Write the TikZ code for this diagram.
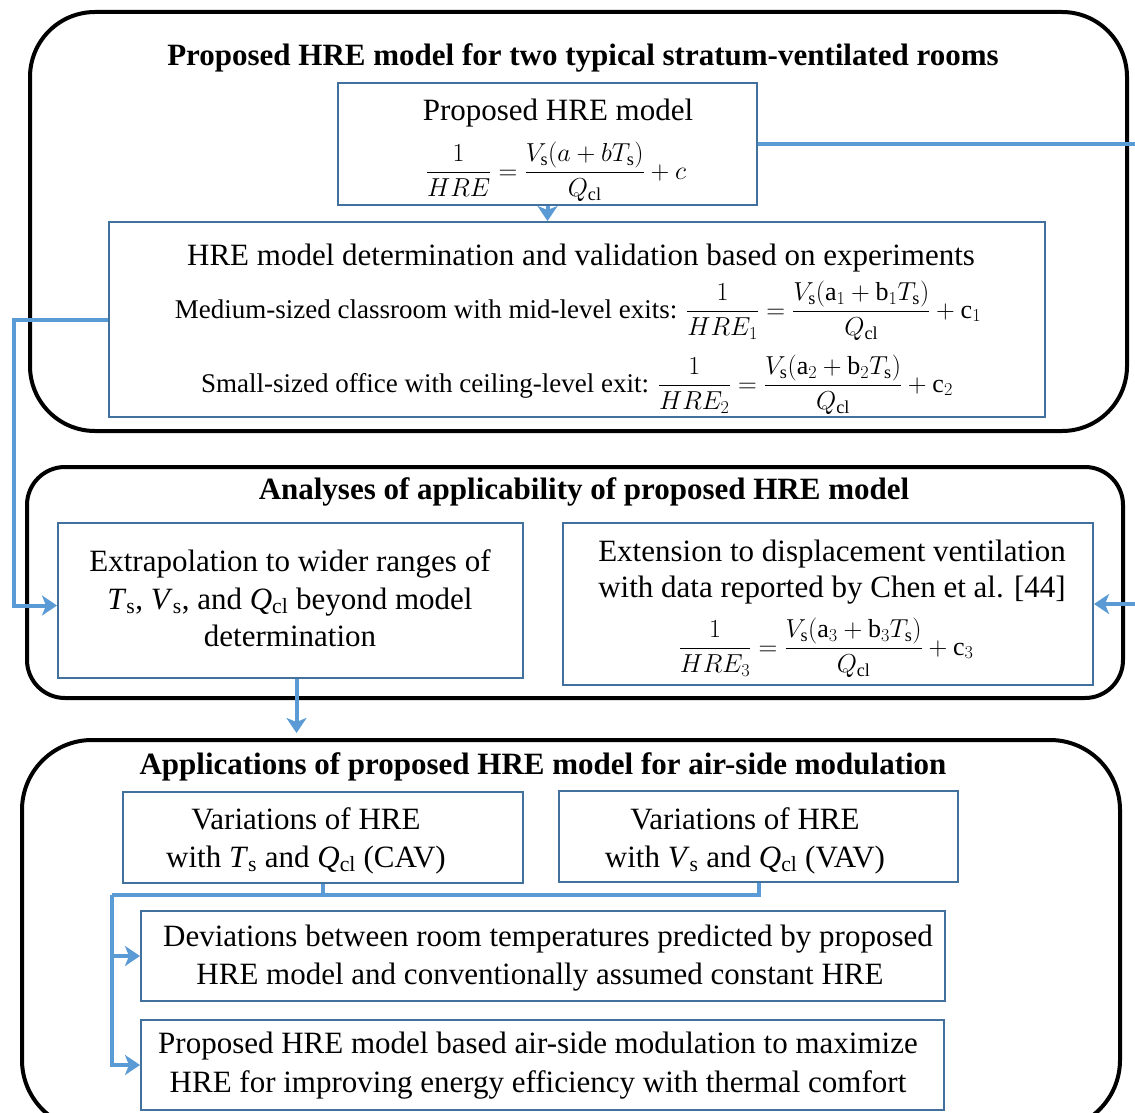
\RequirePackage{fix-cm}
\documentclass[tikz,border=0pt]{standalone}
\usepackage{amsmath}
\usepackage{fontspec}
\setmainfont{Liberation Serif}
\usetikzlibrary{arrows.meta}
\definecolor{boxblue}{RGB}{65,113,156}
\definecolor{lineblue}{RGB}{91,155,213}
\newcommand{\iv}[2]{\textit{#1}\textsubscript{#2}}
\newcommand{\vsm}{V_{\mathrm{s}}}
\newcommand{\tsm}{T_{\mathrm{s}}}
\newcommand{\qcl}{Q_{\mathrm{cl}}}
\newcommand{\mfs}{\fontsize{26}{30}\selectfont}
\begin{document}
\begin{tikzpicture}[x=1pt,y=-1pt,
  outer/.style={draw=black,line width=4pt,rounded corners=#1,inner sep=0pt},
  bluebox/.style={draw=boxblue,line width=2pt,fill=white,inner sep=0pt},
  conn/.style={draw=lineblue,line width=4pt},
  arr/.style={conn,-{Stealth[length=15pt,width=20pt,inset=4pt]}},
  tl/.style={font=\fontsize{31}{38}\selectfont,inner sep=0pt,text height=23pt,text depth=7pt},
  fl/.style={font=\fontsize{27}{34}\selectfont,inner sep=0pt},
  ttl/.style={font=\fontsize{31}{36}\selectfont\bfseries,inner sep=0pt,text height=23pt,text depth=7pt}
  ]
\useasboundingbox (0,0) rectangle (1135,1113);
\clip (0,0) rectangle (1135,1113);
\fill[white] (0,0) rectangle (1135,1113);
% outer frames
\node[outer=65pt, minimum width=1097pt, minimum height=419pt] (O1) at (578.5,221.5) {};
\node[outer=38pt, minimum width=1096pt, minimum height=231pt] (O2) at (575,582.5) {};
\node[outer=70pt, minimum width=1098pt, minimum height=390pt] (O3) at (571,935) {};
% titles
\node[ttl] (t1) at (583,58) {Proposed HRE model for two typical stratum-ventilated rooms};
\node[ttl] (t2) at (584,491) {Analyses of applicability of proposed HRE model};
\node[ttl] (t3) at (543,766) {Applications of proposed HRE model for air-side modulation};
% blue boxes
\node[bluebox, minimum width=419pt, minimum height=122pt] (A) at (547.5,144) {};
\node[bluebox, minimum width=936pt, minimum height=195pt] (B) at (577,319.5) {};
\node[bluebox, minimum width=465pt, minimum height=155pt] (C) at (290.5,600.5) {};
\node[bluebox, minimum width=530pt, minimum height=162pt] (D) at (828,604) {};
\node[bluebox, minimum width=400pt, minimum height=91pt] (E) at (323,837.5) {};
\node[bluebox, minimum width=399pt, minimum height=91pt] (F) at (758.5,836.5) {};
\node[bluebox, minimum width=804pt, minimum height=90pt] (G) at (543,956) {};
\node[bluebox, minimum width=803pt, minimum height=90pt] (H) at (542.5,1065) {};
% texts
\node[tl] (a1) at (558,113) {Proposed HRE model};
\node[fl] (a2) at (556,172) {\mfs$\dfrac{1}{HRE}=\dfrac{\vsm(a+b\tsm)}{\qcl}+c$};
\node[tl] (b1) at (581,257) {HRE model determination and validation based on experiments};
\node[fl] (b2) at (578,311) {Medium-sized classroom with mid-level exits: {\mfs$\dfrac{1}{HRE_1}=\dfrac{\vsm(\mathrm{a}_1+\mathrm{b}_1\tsm)}{\qcl}+\mathrm{c}_1$}};
\node[fl] (b3) at (577,385) {Small-sized office with ceiling-level exit: {\mfs$\dfrac{1}{HRE_2}=\dfrac{\vsm(\mathrm{a}_2+\mathrm{b}_2\tsm)}{\qcl}+\mathrm{c}_2$}};
\node[tl] (c1) at (290,563) {Extrapolation to wider ranges of};
\node[tl] (c2) at (290,601) {\iv{T}{s}, \iv{V}{s}, and \iv{Q}{cl} beyond model};
\node[tl] (c3) at (290,638) {determination};
\node[tl] (d1) at (832,553) {Extension to displacement ventilation};
\node[tl] (d2) at (832,589) {with data reported by Chen et al. [44]};
\node[fl] (d3) at (826,648) {\mfs$\dfrac{1}{HRE_3}=\dfrac{\vsm(\mathrm{a}_3+\mathrm{b}_3\tsm)}{\qcl}+\mathrm{c}_3$};
\node[tl] (e1) at (306,821) {Variations of HRE};
\node[tl] (e2) at (306,859) {with \iv{T}{s} and \iv{Q}{cl} (CAV)};
\node[tl] (f1) at (745,821) {Variations of HRE};
\node[tl] (f2) at (745,859) {with \iv{V}{s} and \iv{Q}{cl} (VAV)};
\node[tl] (g1) at (548,938) {Deviations between room temperatures predicted by proposed};
\node[tl] (g2) at (540,976) {HRE model and conventionally assumed constant HRE};
\node[tl] (h1) at (538,1045) {Proposed HRE model based air-side modulation to maximize};
\node[tl] (h2) at (538,1084) {HRE for improving energy efficiency with thermal comfort};
% connectors
\draw[arr] (A.south) -- (A.south |- B.north);
\coordinate (rr) at (1145,0);
\draw[arr] (A.east) -- (A.east -| rr) |- (D.east);
\coordinate (ll) at (14,0);
\draw[arr] (B.west) -- (B.west -| ll) |- ([yshift=-5pt]C.west);
\draw[arr, shorten >=5pt] ([xshift=6pt]C.south) -- ([xshift=6pt]C.south |- O3.north);
\coordinate (jn) at (112,895);
\draw[conn] (E.south) -- (E.south |- jn);
\draw[conn] (F.south) |- (jn);
\draw[arr] (jn) |- (G.west);
\draw[arr] (jn) |- (H.west);
\end{tikzpicture}
\end{document}
